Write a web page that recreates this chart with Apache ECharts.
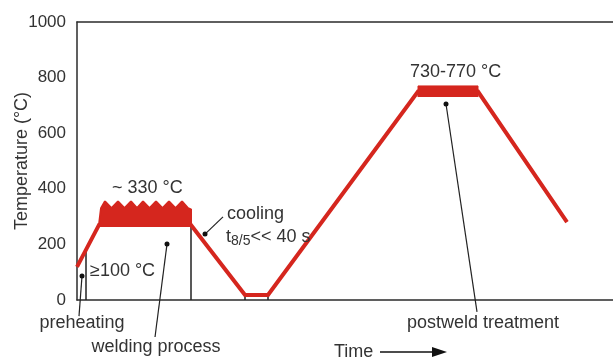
<!DOCTYPE html>
<html>
<head>
<meta charset="utf-8">
<script src="https://cdn.jsdelivr.net/npm/echarts@6/dist/echarts.min.js"></script>
<style>
  html, body { margin: 0; padding: 0; background: #fff; }
  #chart { width: 613px; height: 361px; }
</style>
</head>
<body>
<div id="chart"></div>
<script>
// Welding thermal cycle: temperature vs. (unitless) time
const yTicks = [0, 200, 400, 600, 800, 1000];

// main temperature path [time, °C]
const processPath = [[0, 119], [22, 270], [114, 270], [168, 18], [191, 18], [341, 750], [401, 750], [490, 280]];

// welding passes: zig-zag top of the welding band, filled down to the base level
const weldBase = 270;
const weldTop = [[22, 270], [24, 330], [28, 355], [34.5, 330], [41, 355], [47.5, 330], [54, 355], [60, 330],
                 [66, 355], [72.5, 330], [79, 355], [85.5, 330], [92, 355], [98.5, 330], [105, 355],
                 [111, 330], [114, 326], [114, 270]];

// postweld heat treatment window 730-770 °C
const pwhtLow = 730;
const pwhtHigh = 770;
const pwhtSpan = [341, 401];

// thin black markers under the curve
const markerSegments = [
  [[9, 0], [9, 178]],
  [[114, 0], [114, 270]],
  [[168, 0], [168, 18]],
  [[191, 0], [191, 18]]
];

// leader lines: [dot, end]
const leaders = [
  [[5, 86], [2, -58]],
  [[90, 201], [78, -133]],
  [[128, 237], [146, 299]],
  [[369, 705], [400, -43]]
];

const RED = '#d5261e';
const INK = '#333333';
const FONT = 'Liberation Sans, Arial, sans-serif';

const series = [];

series.push({
  type: 'line', data: weldTop, symbol: 'none', z: 3,
  lineStyle: { color: RED, width: 2 },
  areaStyle: { color: RED, opacity: 1, origin: weldBase }
});

series.push({
  type: 'line', symbol: 'none', z: 3,
  data: [[pwhtSpan[0], pwhtLow], [pwhtSpan[0], pwhtHigh], [pwhtSpan[1], pwhtHigh], [pwhtSpan[1], pwhtLow]],
  lineStyle: { color: RED, width: 1 },
  areaStyle: { color: RED, opacity: 1, origin: pwhtLow }
});

series.push({
  type: 'line', data: processPath, symbol: 'none', z: 4,
  lineStyle: { color: RED, width: 4, join: 'miter' }
});

markerSegments.forEach(seg => series.push({
  type: 'line', data: seg, symbol: 'none', z: 2,
  lineStyle: { color: '#222', width: 1.5 }
}));

leaders.forEach(l => series.push({
  type: 'line', clip: false, z: 5,
  data: [
    { value: l[0], symbol: 'circle', symbolSize: 5 },
    { value: l[1], symbol: 'none' }
  ],
  showSymbol: true,
  itemStyle: { color: '#111' },
  lineStyle: { color: '#222', width: 1.2 }
}));

const txt = (text, x, y, opts) => Object.assign({
  type: 'text', x: x, y: y, z: 10,
  style: Object.assign({ text: text, fill: INK, font: '18px ' + FONT, textAlign: 'left', textVerticalAlign: 'middle' }, opts || {})
});

const chart = echarts.init(document.getElementById('chart'), null, { renderer: 'canvas' });
chart.setOption({
  animation: false,
  backgroundColor: '#fff',
  grid: { left: 77, right: 0, top: 22, bottom: 61, containLabel: false, outerBoundsMode: 'none' },
  xAxis: [
    { type: 'value', min: 0, max: 536, position: 'bottom',
      axisLine: { lineStyle: { color: '#2b2b2b', width: 1.5 } },
      axisTick: { show: false }, axisLabel: { show: false }, splitLine: { show: false } },
    { type: 'value', min: 0, max: 536, position: 'top',
      axisLine: { lineStyle: { color: '#2b2b2b', width: 1.5 } },
      axisTick: { show: false }, axisLabel: { show: false }, splitLine: { show: false } }
  ],
  yAxis: {
    type: 'value', min: yTicks[0], max: yTicks[yTicks.length - 1], interval: 200,
    name: 'Temperature (°C)', nameLocation: 'middle', nameGap: 46, nameMoveOverlap: false,
    nameTextStyle: { color: INK, fontSize: 18, fontFamily: FONT },
    axisLine: { show: true, lineStyle: { color: '#2b2b2b', width: 1.5 } },
    axisTick: { show: false },
    axisLabel: { color: INK, fontSize: 17, fontFamily: FONT, margin: 11, formatter: v => String(v) },
    splitLine: { show: false }
  },
  series: series,
  graphic: [
    txt('~ 330 °C', 112, 188),
    txt('730-770 °C', 410, 72),
    txt('≥100 °C', 90, 271),
    txt('cooling', 227, 214),
    {
      type: 'text', x: 226, y: 237, z: 10,
      style: {
        text: '{a|t}{s|8/5}{a|<< 40 s}',
        textVerticalAlign: 'middle',
        rich: {
          a: { fontSize: 18, fontFamily: FONT, fill: INK, color: INK },
          s: { fontSize: 14, fontFamily: FONT, fill: INK, color: INK, padding: [8, 0, 0, 0] }
        }
      }
    },
    txt('preheating', 82, 323, { textAlign: 'center' }),
    txt('welding process', 156, 347, { textAlign: 'center' }),
    txt('postweld treatment', 483, 323, { textAlign: 'center' }),
    txt('Time', 334, 352),
    { type: 'line', z: 10, shape: { x1: 380, y1: 352, x2: 434, y2: 352 }, style: { stroke: '#111', lineWidth: 1.5 } },
    { type: 'polygon', z: 10, shape: { points: [[432, 347], [447, 352], [432, 357]] }, style: { fill: '#111' } }
  ]
});
</script>
</body>
</html>
